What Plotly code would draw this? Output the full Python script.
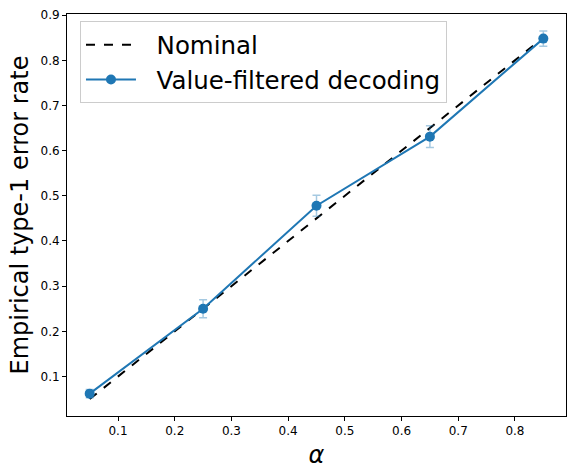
import plotly.graph_objects as go

alpha = [0.05, 0.25, 0.45, 0.65, 0.85]
nominal = [0.05, 0.25, 0.45, 0.65, 0.85]
observed = [0.062, 0.250, 0.478, 0.631, 0.848]
err = [0.009, 0.020, 0.023, 0.024, 0.017]
xticks = [0.1, 0.2, 0.3, 0.4, 0.5, 0.6, 0.7, 0.8]
yticks = [0.1, 0.2, 0.3, 0.4, 0.5, 0.6, 0.7, 0.8, 0.9]
names = ["Nominal", "Value-filtered decoding"]

blue = "#1f77b4"
pad = "\u00a0\u00a0"
fig = go.Figure()
fig.add_trace(go.Scatter(
    x=alpha, y=nominal, mode="lines", name=pad + names[0],
    line=dict(color="black", width=2, dash="dash"),
))
fig.add_trace(go.Scatter(
    x=alpha, y=observed, mode="lines+markers", name=pad + names[1],
    line=dict(color=blue, width=2),
    marker=dict(color=blue, size=10),
    error_y=dict(type="data", array=err, visible=True,
                 color="rgba(31,119,180,0.4)", thickness=1.5, width=4),
))

font = "DejaVu Sans, Liberation Sans, sans-serif"
axis_common = dict(
    showgrid=False, zeroline=False, showline=True, linecolor="black",
    linewidth=1, mirror=True, ticks="outside", ticklen=4, tickcolor="black",
    tickfont=dict(family=font, size=12, color="black"),
)
fig.update_layout(
    width=575, height=471,
    margin=dict(l=67, r=8, t=9, b=55),
    paper_bgcolor="white", plot_bgcolor="white",
    font=dict(family=font, color="black"),
    xaxis=dict(range=[0.01, 0.89], tickvals=xticks,
               ticktext=[f"{v:.1f}" for v in xticks],
               title=dict(text="<i>α</i>", font=dict(size=24), standoff=8),
               **axis_common),
    yaxis=dict(range=[0.0125, 0.9025], tickvals=yticks,
               ticktext=[f"{v:.1f}" for v in yticks],
               title=dict(text="Empirical type-1 error rate", font=dict(size=24), standoff=5),
               **axis_common),
    legend=dict(x=0.026, y=0.982, xanchor="left", yanchor="top",
                bgcolor="white", bordercolor="#cccccc", borderwidth=1,
                font=dict(family=font, size=24.5, color="black"),
                itemwidth=50, tracegroupgap=0),
    showlegend=True,
)
fig.write_html("out.html")
